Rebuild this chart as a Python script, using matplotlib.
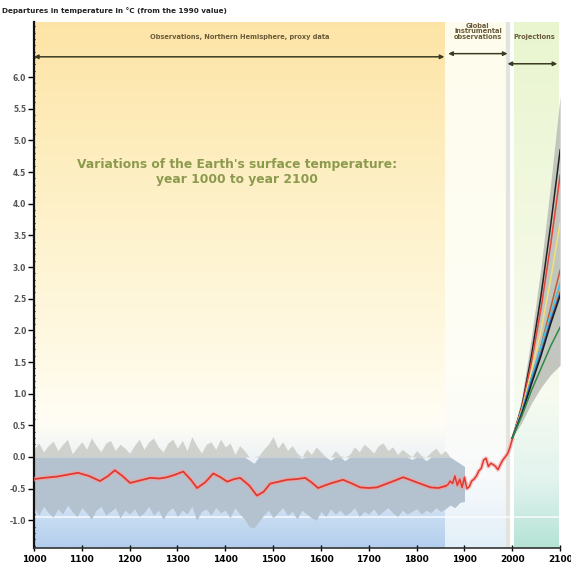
import numpy as np
import matplotlib.pyplot as plt
from matplotlib.colors import LinearSegmentedColormap

# proxy reconstruction (smoothed, red), Northern Hemisphere
recon_years = [1000, 1020, 1048, 1070, 1092, 1115, 1138, 1155, 1169, 1185, 1201, 1222,
               1243, 1262, 1278, 1295, 1312, 1328, 1341, 1358, 1375, 1390, 1404, 1418,
               1431, 1450, 1466, 1480, 1494, 1512, 1529, 1548, 1567, 1580, 1594, 1608,
               1619, 1646, 1665, 1682, 1700, 1717, 1745, 1772, 1800, 1829, 1845, 1860]
recon_vals = [-0.35, -0.33, -0.31, -0.28, -0.25, -0.30, -0.38, -0.30, -0.21, -0.30, -0.41, -0.37,
              -0.33, -0.34, -0.32, -0.28, -0.23, -0.36, -0.49, -0.40, -0.26, -0.32, -0.39, -0.35,
              -0.33, -0.45, -0.61, -0.55, -0.42, -0.39, -0.36, -0.35, -0.33, -0.40, -0.49, -0.45,
              -0.42, -0.36, -0.42, -0.48, -0.49, -0.48, -0.40, -0.32, -0.40, -0.48, -0.49, -0.46]

# instrumental record
instr_years = [1860, 1865, 1870, 1875, 1880, 1885, 1890, 1895, 1900, 1905, 1910, 1915, 1920,
               1925, 1930, 1935, 1940, 1945, 1950, 1955, 1960, 1965, 1970, 1975, 1980, 1985,
               1990, 1995, 2000]
instr_vals = [-0.46, -0.44, -0.38, -0.42, -0.30, -0.45, -0.35, -0.48, -0.32, -0.50, -0.47, -0.38,
              -0.35, -0.30, -0.22, -0.18, -0.05, -0.02, -0.15, -0.10, -0.12, -0.15, -0.20, -0.12,
              -0.05, 0.00, 0.05, 0.15, 0.28]

# proxy uncertainty band, decadal 1000-1900
band_years = list(range(1000, 1901, 10))
band_hi = [0.12, 0.22, 0.08, 0.18, 0.25, 0.10, 0.20, 0.28, 0.05, 0.15,
           0.24, 0.12, 0.30, 0.18, 0.08, 0.22, 0.26, 0.10, 0.20, 0.14,
           0.06, 0.18, 0.28, 0.12, 0.24, 0.30, 0.16, 0.08, 0.22, 0.28,
           0.14, 0.26, 0.10, 0.32, 0.18, 0.06, 0.20, 0.24, 0.12, 0.28,
           0.16, 0.22, 0.04, 0.18, 0.10, -0.05, -0.10, 0.02, 0.12, 0.20,
           0.32, 0.14, 0.24, 0.10, 0.18, 0.06, -0.02, 0.12, 0.04, 0.16,
           0.08, 0.00, -0.05, 0.10, 0.02, -0.06, 0.04, 0.16, 0.08, 0.20,
           0.14, 0.06, 0.18, 0.22, 0.10, 0.16, 0.04, 0.12, 0.06, -0.04,
           0.10, 0.02, -0.06, 0.08, 0.14, 0.04, 0.10, 0.00, -0.05, -0.10,
           -0.15]
band_lo = [-0.80, -0.92, -0.78, -0.88, -0.95, -0.82, -0.90, -0.76, -0.86, -0.94,
           -0.80, -0.88, -0.98, -0.84, -0.78, -0.92, -0.86, -0.80, -0.96, -0.84,
           -0.90, -0.82, -0.94, -0.88, -0.78, -0.92, -0.84, -0.98, -0.86, -0.80,
           -0.94, -0.84, -0.90, -0.78, -1.00, -0.86, -0.82, -0.92, -0.80, -0.88,
           -0.84, -0.96, -0.80, -0.90, -0.98, -1.10, -1.12, -1.02, -0.92, -0.84,
           -0.96, -0.88, -0.80, -0.92, -0.86, -0.98, -0.84, -0.90, -0.96, -1.00,
           -0.86, -0.94, -0.82, -0.90, -0.84, -0.92, -0.88, -0.80, -0.94, -0.86,
           -0.90, -0.82, -0.92, -0.86, -0.80, -0.88, -0.94, -0.84, -0.90, -0.86,
           -0.82, -0.90, -0.84, -0.88, -0.80, -0.86, -0.82, -0.76, -0.80, -0.72,
           -0.70]

# projections 2000-2100
proj_years = [2000, 2020, 2040, 2060, 2080, 2100]
env_hi = [0.30, 0.95, 1.90, 3.00, 4.30, 5.70]
env_lo = [0.30, 0.55, 0.85, 1.10, 1.30, 1.45]
scenarios = {
    'A1FI': [0.30, 0.80, 1.60, 2.55, 3.65, 4.85],
    'A2':   [0.30, 0.78, 1.50, 2.35, 3.35, 4.45],
    'A1B':  [0.30, 0.75, 1.35, 2.00, 2.80, 3.70],
    'B2r':  [0.30, 0.72, 1.25, 1.75, 2.35, 2.95],
    'A1T':  [0.30, 0.70, 1.20, 1.70, 2.20, 2.70],
    'B2':   [0.30, 0.72, 1.25, 1.75, 2.25, 2.75],
    'IS92': [0.30, 0.70, 1.20, 1.65, 2.15, 2.60],
    'B1k':  [0.30, 0.68, 1.15, 1.60, 2.10, 2.55],
    'B1':   [0.30, 0.65, 1.05, 1.40, 1.75, 2.05],
}
scen_colors = {'A1FI': '#222222', 'A2': '#e8423a', 'A1B': '#f3e07a', 'B2r': '#c8553a',
               'A1T': '#f29a3a', 'B2': '#42c6e8', 'IS92': '#3560b8', 'B1k': '#1a1a1a',
               'B1': '#2e8a48'}

ylo, yhi = -1.44, 6.87

fig = plt.figure(figsize=(5.71, 5.71), dpi=100)
ax = fig.add_axes([0.0595, 0.040, 0.9215, 0.9215])


def gradient(x0, x1, stops):
    st = [((v - ylo) / (yhi - ylo), c) for v, c in stops]
    cmap = LinearSegmentedColormap.from_list('g', st)
    ax.imshow(np.linspace(1, 0, 256).reshape(-1, 1), extent=(x0, x1, ylo, yhi),
              aspect='auto', cmap=cmap, vmin=0, vmax=1, zorder=0)


gradient(1000, 1860, [(ylo, '#b3cfee'), (-0.5, '#dde9f5'), (0.5, '#fffdf6'),
                      (1.5, '#fffae6'), (4.0, '#fef1c8'), (yhi, '#fde4a6')])
gradient(1860, 1988, [(ylo, '#e2eff8'), (-0.3, '#f8fafb'), (1.5, '#fffef6'), (yhi, '#fefcec')])
gradient(2003, 2096, [(ylo, '#b5e3d6'), (-0.4, '#e2f3ee'), (1.0, '#f7fbf0'),
                      (4.0, '#f1f8df'), (yhi, '#e9f5cf')])
ax.axvline(1990, color='#e4e4de', lw=3, zorder=1)
ax.axhline(-0.95, color='white', lw=1.2, alpha=0.8, zorder=1)

# proxy band
bh = np.array(band_hi)
bl = np.array(band_lo)
ax.fill_between(band_years, 0, np.maximum(bh, 0), color='#cfd1cd', lw=0, zorder=2)
ax.fill_between(band_years, bl, np.minimum(bh, 0), color='#b4c2cf', lw=0, zorder=2)

# red curves
ax.plot(recon_years, recon_vals, color='#f4a0a0', lw=3.5, alpha=0.6, zorder=3)
ax.plot(recon_years, recon_vals, color='#e03a30', lw=1.3, zorder=4)
ax.plot(instr_years, instr_vals, color='#f4a0a0', lw=3.0, alpha=0.6, zorder=3)
ax.plot(instr_years, instr_vals, color='#e03a30', lw=1.1, zorder=4)

# projections
ax.fill_between(proj_years, env_lo, env_hi, color='#b9bdb6', alpha=0.85, lw=0, zorder=2)
for name, vals in scenarios.items():
    ax.plot(proj_years, vals, color=scen_colors[name], lw=1.1, zorder=5)

ax.set_xlim(1000, 2100)
ax.set_ylim(ylo, yhi)

# arrows and headers
arrow = dict(arrowstyle='<|-|>', color='#3b3a22', lw=1.1, mutation_scale=6,
             shrinkA=0, shrinkB=0)
ax.annotate('', xy=(1858, 6.32), xytext=(1000, 6.32), arrowprops=arrow)
ax.annotate('', xy=(1990, 6.37), xytext=(1866, 6.37), arrowprops=arrow)
ax.annotate('', xy=(2094, 6.21), xytext=(1990, 6.21), arrowprops=arrow)
hdr = dict(fontsize=4.8, color='#6a5a3a', fontweight='bold', ha='center')
ax.text(1430, 6.63, 'Observations, Northern Hemisphere, proxy data', va='center', **hdr)
ax.text(1928, 6.72, 'Global\ninstrumental\nobservations', va='center',
        linespacing=0.95, **hdr)
ax.text(2045, 6.63, 'Projections', va='center', **hdr)

ax.text(1425, 4.5, "Variations of the Earth's surface temperature:\nyear 1000 to year 2100",
        ha='center', va='center', fontsize=8.8, fontweight='bold', color='#8c9a4e',
        linespacing=1.15)

fig.text(0.004, 0.988, 'Departures in temperature in °C (from the 1990 value)',
         fontsize=5.2, fontweight='bold', va='top', color='#222222')

# axes styling
for s in ['top', 'right']:
    ax.spines[s].set_visible(False)
ax.spines['left'].set_linewidth(1.6)
ax.spines['left'].set_color('#111111')
ax.spines['bottom'].set_linewidth(1.2)
ax.spines['bottom'].set_color('#333333')

yt = np.arange(-1.0, 6.01, 0.5)
ax.set_yticks(yt)
ax.set_yticklabels([f'{v:.1f}' for v in yt])
ax.set_yticks(np.arange(-1.4, 6.85, 0.1), minor=True)
ax.tick_params(axis='y', which='major', length=4, width=1, direction='out',
               labelsize=5.5, labelcolor='#555555', pad=1.5)
ax.tick_params(axis='y', which='minor', length=2, width=0.8, direction='inout')
ax.set_xticks(range(1000, 2101, 100))
ax.tick_params(axis='x', which='major', length=4, width=1, direction='inout',
               labelsize=6.5, pad=3)
for lab in ax.get_xticklabels() + ax.get_yticklabels():
    lab.set_fontweight('bold')

fig.savefig('out.png', dpi=100)
